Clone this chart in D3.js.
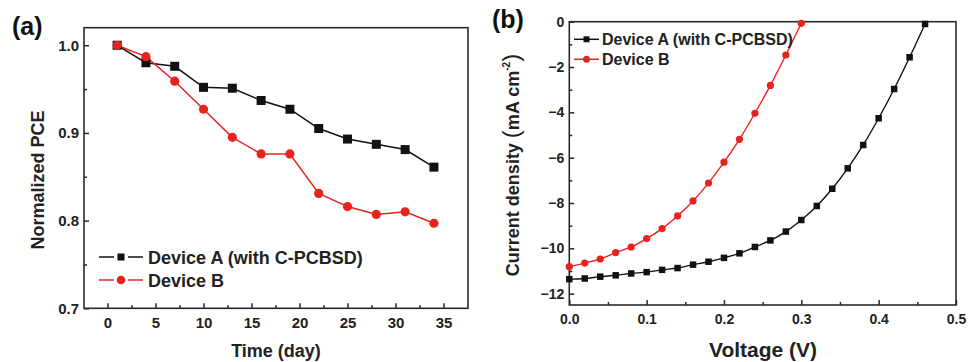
<!DOCTYPE html>
<html>
<head>
<meta charset="utf-8">
<script src="https://cdn.jsdelivr.net/npm/d3@7"></script>
<style>
  body { margin: 0; background: #fff; }
  svg { display: block; font-family: "Liberation Sans", Arial, sans-serif; font-weight: bold; }
</style>
</head>
<body>
<svg width="969" height="362"></svg>
<script>
// panel (a): stability
const days = [1, 4, 7, 10, 13, 16, 19, 22, 25, 28, 31, 34]
const pceA = [1.0, 0.980, 0.976, 0.952, 0.951, 0.937, 0.927, 0.905, 0.893, 0.887, 0.881, 0.861]
const pceB = [1.0, 0.987, 0.959, 0.927, 0.895, 0.876, 0.876, 0.831, 0.816, 0.807, 0.810, 0.797]

// panel (b): J-V curves
const voltA = [0, 0.02, 0.04, 0.06, 0.08, 0.10, 0.12, 0.14, 0.16, 0.18, 0.20, 0.22,
	0.24, 0.26, 0.28, 0.30, 0.32, 0.34, 0.36, 0.38, 0.40, 0.42, 0.44, 0.46]
const jA = [-11.36, -11.33, -11.25, -11.19, -11.11, -11.05, -10.95, -10.87, -10.72, -10.59, -10.42, -10.22,
	-9.94, -9.65, -9.26, -8.75, -8.13, -7.37, -6.47, -5.44, -4.26, -2.97, -1.57, -0.10]
const voltB = [0, 0.02, 0.04, 0.06, 0.08, 0.10, 0.12, 0.14, 0.16, 0.18, 0.20, 0.22, 0.24, 0.26, 0.28, 0.30]
const jB = [-10.81, -10.65, -10.47, -10.19, -9.94, -9.57, -9.13, -8.57, -7.91, -7.12, -6.20, -5.19,
	-4.04, -2.81, -1.47, -0.07]

const seriesNames = ["Device A (with C-PCBSD)", "Device B"]
const ticksA_x = [0, 5, 10, 15, 20, 25, 30, 35]
const ticksA_y = [0.7, 0.8, 0.9, 1.0]
const ticksB_x = [0, 0.1, 0.2, 0.3, 0.4, 0.5]
const ticksB_y = [-12, -10, -8, -6, -4, -2, 0]

const black = "#111"
const red = "#e8231f"
const axisColor = "#2a2a2a"

const svg = d3.select("svg")

const drawAxes = (g, x, y, xTicks, yTicks, xMinor, yMinor, xFmt, yFmt, fontSize) => {
	const xr = x.range(), yr = y.range()
	g.append("g").attr("transform", `translate(0, ${yr[0]})`)
		.call(d3.axisBottom(x).tickValues(xTicks).tickFormat(xFmt).tickSize(-5).tickPadding(9))
	g.append("g").attr("transform", `translate(${xr[0]}, 0)`)
		.call(d3.axisLeft(y).tickValues(yTicks).tickFormat(yFmt).tickSize(-5).tickPadding(5))
	g.append("g").attr("transform", `translate(0, ${yr[0]})`)
		.call(d3.axisBottom(x).tickValues(xMinor).tickFormat("").tickSize(-3))
	g.append("g").attr("transform", `translate(${xr[0]}, 0)`)
		.call(d3.axisLeft(y).tickValues(yMinor).tickFormat("").tickSize(-3))
	g.selectAll(".domain").remove()
	g.selectAll(".tick line").attr("stroke", axisColor).attr("stroke-width", 1.5)
	g.selectAll(".tick text").attr("fill", "#222").style("font-size", fontSize + "px")
		.style("font-family", "'Liberation Sans', Arial, sans-serif").style("font-weight", "bold")
	g.append("rect")
		.attr("x", xr[0]).attr("y", yr[1])
		.attr("width", xr[1] - xr[0]).attr("height", yr[0] - yr[1])
		.attr("fill", "none").attr("stroke", axisColor).attr("stroke-width", 1.6)
}

const squares = (g, pts, size, color) => {
	g.selectAll(null).data(pts).enter().append("rect")
		.attr("x", (d) => d[0] - size / 2).attr("y", (d) => d[1] - size / 2)
		.attr("width", size).attr("height", size).attr("fill", color)
}
const circles = (g, pts, r, color) => {
	g.selectAll(null).data(pts).enter().append("circle")
		.attr("cx", (d) => d[0]).attr("cy", (d) => d[1]).attr("r", r).attr("fill", color)
}

// ---------- panel (a) ----------
{
	const g = svg.append("g")
	const x = d3.scaleLinear().domain([-2.45, 37.55]).range([84, 468])
	const y = d3.scaleLinear().domain([0.7, 1.02]).range([308.3, 27.7])
	drawAxes(g, x, y, ticksA_x, ticksA_y,
		[2.5, 7.5, 12.5, 17.5, 22.5, 27.5, 32.5], [0.75, 0.85, 0.95],
		d3.format("d"), d3.format(".1f"), 15)

	const line = d3.line().x((d) => x(d[0])).y((d) => y(d[1]))
	const a = days.map((d, i) => [d, pceA[i]])
	const b = days.map((d, i) => [d, pceB[i]])
	g.append("path").attr("d", line(a)).attr("fill", "none").attr("stroke", black).attr("stroke-width", 1.5)
	g.append("path").attr("d", line(b)).attr("fill", "none").attr("stroke", red).attr("stroke-width", 1.5)
	squares(g, a.map((d) => [x(d[0]), y(d[1])]), 9, black)
	circles(g, b.map((d) => [x(d[0]), y(d[1])]), 4.6, red)

	// legend, with small gaps either side of the symbol
	const leg = g.append("g")
	;[[257, black, "sq"], [280, red, "ci"]].forEach(([ly, c, m], i) => {
		leg.append("line").attr("x1", 99).attr("x2", 114).attr("y1", ly).attr("y2", ly)
			.attr("stroke", c).attr("stroke-width", 1.5)
		leg.append("line").attr("x1", 128).attr("x2", 143).attr("y1", ly).attr("y2", ly)
			.attr("stroke", c).attr("stroke-width", 1.5)
		if (m === "sq") squares(leg, [[121, ly]], 7, c)
		else circles(leg, [[121, ly]], 4.3, c)
		leg.append("text").attr("x", 148).attr("y", ly + 6.5).attr("font-size", 18)
			.attr("fill", "#222").text(seriesNames[i])
	})

	g.append("text").attr("x", 276).attr("y", 357).attr("text-anchor", "middle")
		.attr("font-size", 18).attr("fill", "#222").text("Time (day)")
	g.append("text").attr("transform", "translate(44, 180) rotate(-90)").attr("text-anchor", "middle")
		.attr("font-size", 18).attr("fill", "#222").text("Normalized PCE")
	g.append("text").attr("x", 12).attr("y", 35).attr("font-size", 25).attr("fill", "#111").text("(a)")
}

// ---------- panel (b) ----------
{
	const g = svg.append("g")
	const x = d3.scaleLinear().domain([0, 0.5]).range([569.3, 956])
	const y = d3.scaleLinear().domain([-12.5, 0]).range([305, 21.7])
	drawAxes(g, x, y, ticksB_x, ticksB_y,
		[0.05, 0.15, 0.25, 0.35, 0.45], [-11, -9, -7, -5, -3, -1],
		d3.format(".1f"), d3.format("d"), 14)

	const line = d3.line().x((d) => x(d[0])).y((d) => y(d[1])).curve(d3.curveMonotoneX)
	const a = voltA.map((d, i) => [d, jA[i]])
	const b = voltB.map((d, i) => [d, jB[i]])
	g.append("path").attr("d", line(a)).attr("fill", "none").attr("stroke", black).attr("stroke-width", 1.4)
	g.append("path").attr("d", line(b)).attr("fill", "none").attr("stroke", red).attr("stroke-width", 1.4)
	squares(g, a.map((d) => [x(d[0]), y(d[1])]), 6.5, black)
	circles(g, b.map((d) => [x(d[0]), y(d[1])]), 3.6, red)

	const leg = g.append("g")
	;[[39.3, black, "sq"], [59.3, red, "ci"]].forEach(([ly, c, m], i) => {
		leg.append("line").attr("x1", 574).attr("x2", 599).attr("y1", ly).attr("y2", ly)
			.attr("stroke", c).attr("stroke-width", 1.5)
		if (m === "sq") squares(leg, [[586.5, ly]], 6, c)
		else circles(leg, [[586.5, ly]], 3.5, c)
		leg.append("text").attr("x", 602).attr("y", ly + 5.5).attr("font-size", 16)
			.attr("fill", "#222").text(seriesNames[i])
	})

	g.append("text").attr("x", 763).attr("y", 357).attr("text-anchor", "middle")
		.attr("font-size", 21).attr("fill", "#222").text("Voltage (V)")
	const yt = g.append("text").attr("transform", "translate(519, 165) rotate(-90)").attr("text-anchor", "middle")
		.attr("font-size", 18).attr("fill", "#222")
	yt.append("tspan").text("Current density ")
	yt.append("tspan").attr("font-weight", "normal").attr("font-size", 24).text("(")
	yt.append("tspan").text("mA cm")
	yt.append("tspan").attr("font-size", 10).attr("dy", -9).text("-2")
	yt.append("tspan").attr("font-weight", "normal").attr("font-size", 24).attr("dy", 9).text(")")
	g.append("text").attr("x", 492).attr("y", 28).attr("font-size", 25).attr("fill", "#111").text("(b)")
}
</script>
</body>
</html>
